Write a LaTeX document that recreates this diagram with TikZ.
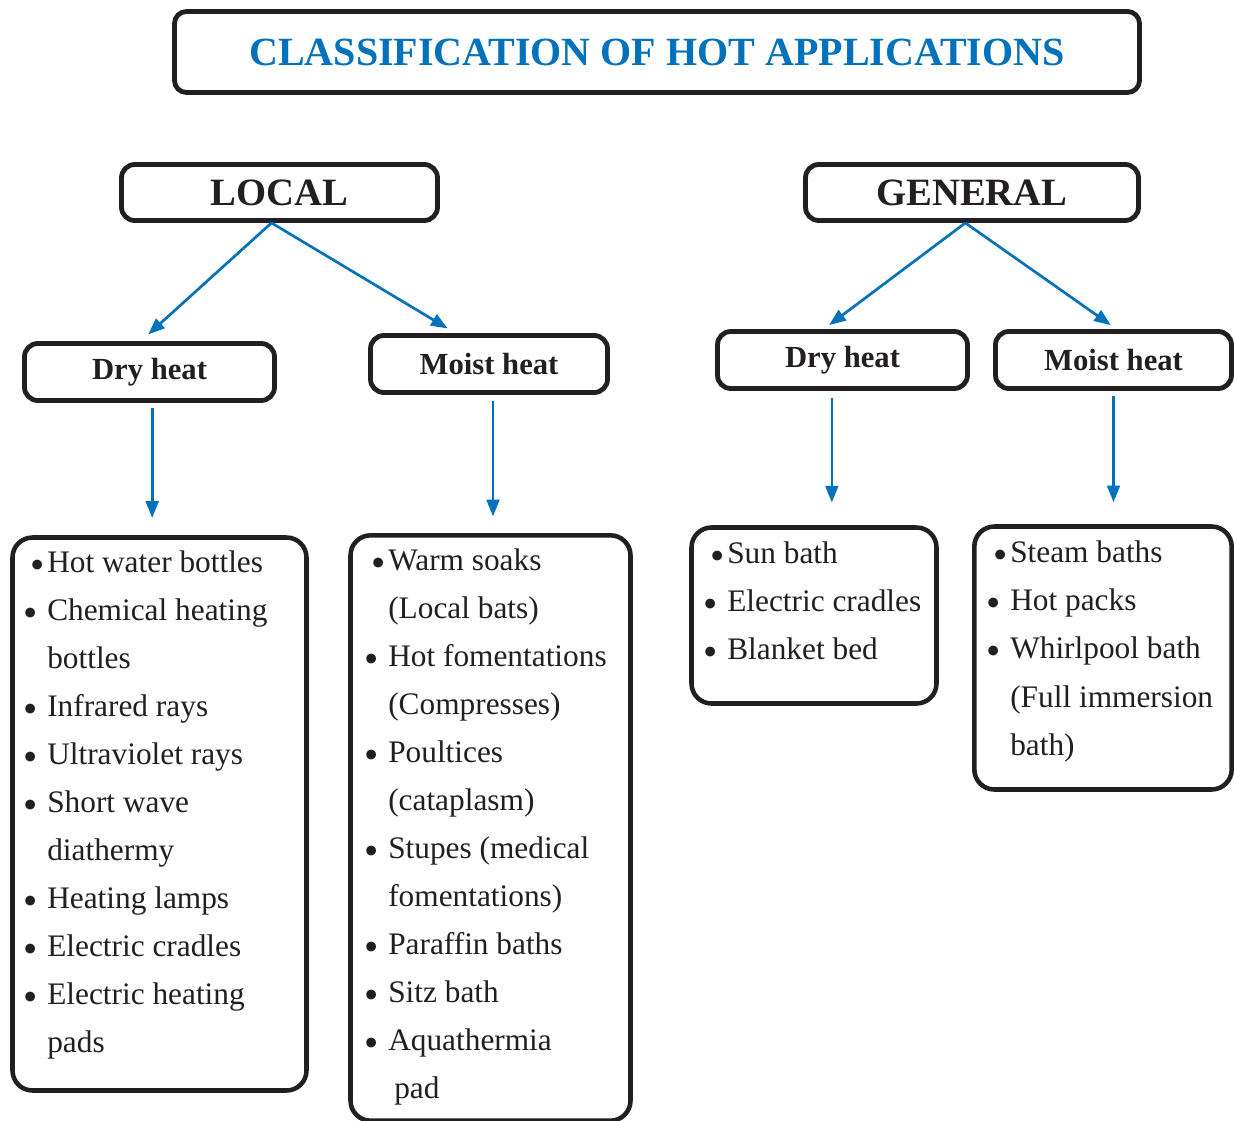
\documentclass[tikz,border=0pt]{standalone}
\usepackage{fontspec}
\setmainfont{Liberation Serif}
\usepackage{graphicx}
\usetikzlibrary{arrows.meta}
\definecolor{tblue}{RGB}{0,114,188}
\definecolor{ink}{RGB}{35,31,32}
\newcommand{\bul}{\raisebox{-4.5pt}{\scalebox{1.3}{\textbullet}}}
\newcommand{\bt}{\llap{\bul\hspace{2.2pt}}}
\newcommand{\bn}{\llap{\bul\hspace{7.5pt}}}
\begin{document}
\begin{tikzpicture}[x=0.75pt, y=-0.75pt,
  hdr/.style={draw=ink, line width=3.6pt, rounded corners=10pt, inner sep=0pt, text=ink},
  listbox/.style={draw=ink, line width=3.4pt, rounded corners=15pt, inner sep=0pt},
  item/.style={anchor=base west, inner sep=0pt, text=ink, font=\fontsize{23.5}{28}\selectfont},
  arr/.style={draw=tblue, line width=2pt, -{Triangle[length=12.5pt,width=9.5pt]}},
  big/.style={font=\bfseries\fontsize{29}{34}\selectfont},
  mid/.style={font=\bfseries\fontsize{23}{28}\selectfont}]
\useasboundingbox (0,0) rectangle (1234,1120);
\clip (0,0) rectangle (1234,1120);
\fill[white] (0,0) rectangle (1234,1120);

% title
\node[hdr, minimum width=723.75pt, minimum height=60.75pt, rounded corners=9pt,
  font=\bfseries\fontsize{30}{36}\selectfont, text=tblue] (title) at (657,52) {\raisebox{-2pt}{CLASSIFICATION OF HOT APPLICATIONS}};

% level 1
\node[hdr, big, minimum width=237pt, minimum height=42pt] (local) at (279.5,192.5) {LOCAL};
\node[hdr, big, minimum width=249.75pt, minimum height=42pt] (general) at (972,192.5) {GENERAL};

% level 2
\node[hdr, mid, minimum width=187.5pt, minimum height=42.75pt] (ldry) at (149.5,372) {Dry heat};
\node[hdr, mid, minimum width=177.75pt, minimum height=42.75pt] (lmoist) at (489,364) {Moist heat};
\node[hdr, mid, minimum width=187.5pt, minimum height=42.75pt] (gdry) at (842.5,360) {Dry heat};
\node[hdr, mid, minimum width=177pt, minimum height=42.75pt] (gmoist) at (1113.5,360) {Moist heat};

% list boxes
\node[listbox, minimum width=220.5pt, minimum height=414.75pt] (ldlist) at (159.5,814) {};
\node[listbox, minimum width=210pt, minimum height=439pt] (lmlist) at (490.5,828) {};
\node[listbox, minimum width=183.75pt, minimum height=132pt] (gdlist) at (814,615.5) {};
\node[listbox, minimum width=193pt, minimum height=197.25pt] (gmlist) at (1103,658) {};

% arrows
\draw[arr] ([xshift=-6pt]local.south) -- ([xshift=-1pt,yshift=5pt]ldry.north);
\draw[arr] ([xshift=-6pt]local.south) -- ([xshift=-31pt,yshift=3.5pt]lmoist.north);
\draw[arr] ([xshift=-5pt]general.south) -- ([xshift=-10pt,yshift=3pt]gdry.north);
\draw[arr] ([xshift=-5pt]general.south) -- ([xshift=-2pt,yshift=3pt]gmoist.north);

\draw[arr, shorten <=4pt, shorten >=13pt] ([xshift=2pt]ldry.south) -- ([xshift=2pt]ldry.south |- ldlist.north);
\draw[arr, shorten <=4.5pt, shorten >=12.5pt] ([xshift=3pt]lmoist.south) -- ([xshift=3pt]lmoist.south |- lmlist.north);
\draw[arr, shorten <=5pt, shorten >=17pt] ([xshift=-8pt]gdry.south) -- ([xshift=-8pt]gdry.south |- gdlist.north);
\draw[arr, shorten <=3.5pt, shorten >=16.5pt] (gmoist.south) -- (gmoist.south |- gmlist.north);

% local dry items
\node[item] (ld0) at (47,572) {\bt Hot water bottles};
\node[item] (ld1) at (47,620) {\bn Chemical heating};
\node[item] (ld2) at (47,668) {bottles};
\node[item] (ld3) at (47,716) {\bn Infrared rays};
\node[item] (ld4) at (47,764) {\bn Ultraviolet rays};
\node[item] (ld5) at (47,812) {\bn Short wave};
\node[item] (ld6) at (47,860) {diathermy};
\node[item] (ld7) at (47,908) {\bn Heating lamps};
\node[item] (ld8) at (47,956) {\bn Electric cradles};
\node[item] (ld9) at (47,1004) {\bn Electric heating};
\node[item] (ld10) at (47,1052) {pads};

% local moist items
\node[item] (lm0) at (388,570) {\bt Warm soaks};
\node[item] (lm1) at (388,618) {(Local bats)};
\node[item] (lm2) at (388,666) {\bn Hot fomentations};
\node[item] (lm3) at (388,714) {(Compresses)};
\node[item] (lm4) at (388,762) {\bn Poultices};
\node[item] (lm5) at (388,810) {(cataplasm)};
\node[item] (lm6) at (388,858) {\bn Stupes (medical};
\node[item] (lm7) at (388,906) {fomentations)};
\node[item] (lm8) at (388,954) {\bn Paraffin baths};
\node[item] (lm9) at (388,1002) {\bn Sitz bath};
\node[item] (lm10) at (388,1050) {\bn Aquathermia};
\node[item] (lm11) at (394,1098) {pad};

% general dry items
\node[item] (gd0) at (727,563) {\bt Sun bath};
\node[item] (gd1) at (727,611) {\bn Electric cradles};
\node[item] (gd2) at (727,659) {\bn Blanket bed};

% general moist items
\node[item] (gm0) at (1010,562) {\bt Steam baths};
\node[item] (gm1) at (1010,610) {\bn Hot packs};
\node[item] (gm2) at (1010,658) {\bn Whirlpool bath};
\node[item] (gm3) at (1010,707) {(Full immersion};
\node[item] (gm4) at (1010,755) {bath)};
\end{tikzpicture}
\end{document}
